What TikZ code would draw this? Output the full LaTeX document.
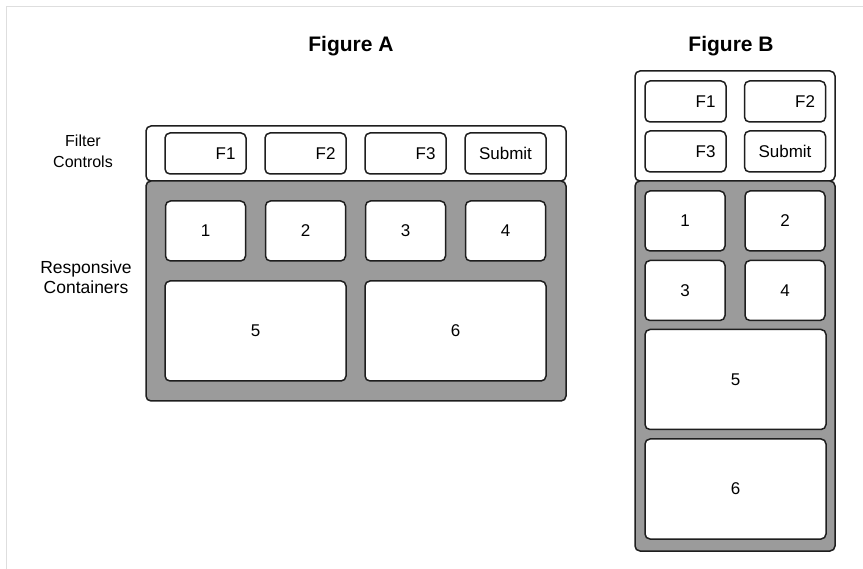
\documentclass[tikz,border=0pt]{standalone}
\usepackage{fontspec}
\setmainfont{Liberation Sans}
\definecolor{panelgray}{HTML}{9B9B9B}
\definecolor{framegray}{HTML}{DEDEDE}
\definecolor{edge}{HTML}{1E1E1E}

\begin{document}
\begin{tikzpicture}[x=1pt,y=-1pt,
  box/.style={draw=edge,line width=1.5pt,rounded corners=5pt,fill=white,inner sep=0pt},
  bar/.style={box},
  panel/.style={box,fill=panelgray},
  field/.style={box,minimum width=81pt,minimum height=41pt,text width=60pt,align=right,font=\fontsize{17}{17}\selectfont},
  button/.style={field,align=center},
  cell/.style={box,minimum width=80pt,minimum height=60pt,font=\fontsize{17}{17}\selectfont},
  wide/.style={cell,minimum width=181pt,minimum height=100pt},
  title/.style={font=\bfseries\fontsize{21}{21}\selectfont},
  side/.style={align=center,font=\fontsize{16}{21}\selectfont}]
\useasboundingbox (0,0) rectangle (863,569);
\draw[framegray,line width=1pt] (6,569)--(6,7)--(863,7);
% Figure A
\node[title] (titleA) at (351,46) {Figure A};
\node[bar,minimum width=420pt,minimum height=55pt] (barA) at (356,153.5) {};
\node[panel,minimum width=420pt,minimum height=220pt] (panelA) at (356,291) {};
\foreach \t [count=\i] in {F1,F2,F3}
  \node[field] (fA\i) at (105.5+100*\i,153.5) {\t};
\node[button] (subA) at (505.5,153.5) {Submit};
\foreach \i in {1,...,4}
  \node[cell] (cA\i) at (105.5+100*\i,231) {\i};
\node[wide] (cA5) at (255.5,331) {5};
\node[wide] (cA6) at (455.5,331) {6};
\node[side] (lblFilter) at (83,151) {Filter\\Controls};
\node[side,font=\fontsize{17.5}{20}\selectfont] (lblCont) at (86,277) {Responsive\\Containers};
% Figure B
\node[title] (titleB) at (731,46) {Figure B};
\node[bar,minimum width=200pt,minimum height=110pt] (barB) at (735,126) {};
\node[panel,minimum width=200pt,minimum height=370pt] (panelB) at (735,366) {};
\node[field] (fB1) at (685.5,101.5) {F1};
\node[field] (fB2) at (785,101.5) {F2};
\node[field] (fB3) at (685.5,151.5) {F3};
\node[button] (subB) at (785,151.5) {Submit};
\node[cell] (cB1) at (685,221) {1};
\node[cell] (cB2) at (785,221) {2};
\node[cell] (cB3) at (685,290.5) {3};
\node[cell] (cB4) at (785,290.5) {4};
\node[wide] (cB5) at (735.5,379.5) {5};
\node[wide] (cB6) at (735.5,489) {6};
\end{tikzpicture}
\end{document}
